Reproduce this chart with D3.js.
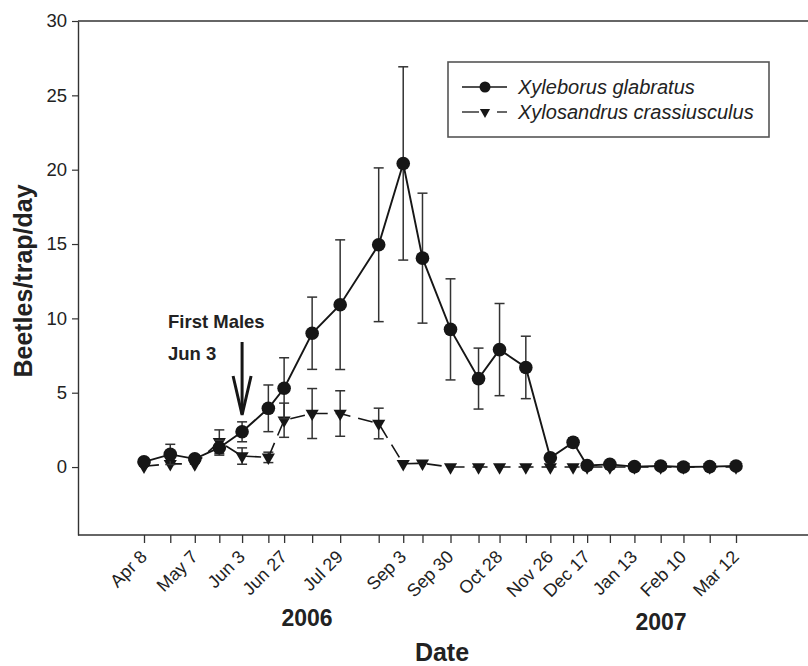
<!DOCTYPE html>
<html>
<head>
<meta charset="utf-8">
<script src="https://cdn.jsdelivr.net/npm/d3@7/dist/d3.min.js"></script>
<style>
  html, body { margin: 0; padding: 0; background: #fff; }
  svg { display: block; font-family: "Liberation Sans", Arial, Helvetica, sans-serif; }
</style>
</head>
<body>
<svg id="chart" width="808" height="666"></svg>
<script>
// Trap collection dates (2006–2007)
const sampleDates = [
  "2006-04-08","2006-04-23","2006-05-07","2006-05-21","2006-06-03","2006-06-18",
  "2006-06-27","2006-07-13","2006-07-29","2006-08-20","2006-09-03","2006-09-14",
  "2006-09-30","2006-10-16","2006-10-28","2006-11-12","2006-11-26","2006-12-09",
  "2006-12-17","2006-12-30","2007-01-13","2007-01-28","2007-02-10","2007-02-25",
  "2007-03-12"
];

// Mean beetles/trap/day and standard errors
const glabratusMean = [0.35, 0.85, 0.55, 1.3, 2.37, 3.95, 5.3, 9.0, 10.92, 14.95, 20.42, 14.05,
  9.26, 5.95, 7.9, 6.7, 0.63, 1.66, 0.1, 0.18, 0.03, 0.07, 0.0, 0.03, 0.07];
const glabratusSE = [0.15, 0.68, 0.2, 0.5, 0.67, 1.57, 2.05, 2.43, 4.36, 5.17, 6.5, 4.37,
  3.4, 2.05, 3.1, 2.1, 0.15, 0.3, 0.1, 0.08, 0.05, 0.06, 0.05, 0.05, 0.05];

const crassMean = [0.05, 0.22, 0.2, 1.7, 0.74, 0.65, 3.15, 3.6, 3.6, 2.93, 0.22, 0.25,
  0.0, 0.0, 0.0, 0.0, 0.0, 0.0, 0.0, 0.0, 0.0, 0.0, 0.0, 0.0, 0.0];
const crassSE = [0.05, 0.1, 0.1, 0.8, 0.55, 0.35, 1.15, 1.68, 1.53, 1.03, 0.05, 0.05,
  0.0, 0.0, 0.0, 0.0, 0.0, 0.0, 0.0, 0.0, 0.0, 0.0, 0.0, 0.0, 0.0];

// Labelled x ticks
const labelDates = ["2006-04-08","2006-05-07","2006-06-03","2006-06-27","2006-07-29","2006-09-03",
  "2006-09-30","2006-10-28","2006-11-26","2006-12-17","2007-01-13","2007-02-10","2007-03-12"];
const labelTexts = ["Apr 8","May 7","Jun 3","Jun 27","Jul 29","Sep 3",
  "Sep 30","Oct 28","Nov 26","Dec 17","Jan 13","Feb 10","Mar 12"];

const yTicks = [0, 5, 10, 15, 20, 25, 30];
const seriesNames = ["Xyleborus glabratus", "Xylosandrus crassiusculus"];

const parse = d3.utcParse("%Y-%m-%d");
const dates = sampleDates.map(parse);

const svg = d3.select("#chart");
const ink = "#161616";

const x = d3.scaleUtc()
  .domain([parse("2006-04-08"), parse("2007-03-12")])
  .range([144, 736]);
const y = d3.scaleLinear().domain([-4.57, 30]).range([535, 21]);

const plotLeft = 78, plotRight = 810;

// Frame lines (top and bottom run to the edge)
svg.append("line").attr("x1", plotLeft).attr("x2", plotRight)
  .attr("y1", y(30)).attr("y2", y(30)).attr("stroke", "#333").attr("stroke-width", 1.4);

// Y axis
const yAxis = d3.axisLeft(y).tickValues(yTicks).tickSize(6).tickPadding(5).tickSizeOuter(0);
const gy = svg.append("g").attr("transform", `translate(${plotLeft},0)`).call(yAxis);
gy.select(".domain").attr("stroke", "#333").attr("stroke-width", 1.4);
gy.selectAll(".tick line").attr("stroke", "#333").attr("stroke-width", 1.2);
gy.selectAll(".tick text").attr("font-size", 18.5).attr("fill", "#222")
  .attr("font-family", "Liberation Sans, Arial, sans-serif");

// X axis: a tick at every collection date, labels on every other one
const xAxis = d3.axisBottom(x).tickValues(dates).tickSize(8).tickFormat("").tickSizeOuter(0);
const gx = svg.append("g").attr("transform", `translate(0,${y.range()[0]})`).call(xAxis);
gx.select(".domain").remove();
gx.selectAll(".tick line").attr("stroke", "#333").attr("stroke-width", 1.3);
svg.append("line").attr("x1", plotLeft).attr("x2", plotRight)
  .attr("y1", y.range()[0]).attr("y2", y.range()[0]).attr("stroke", "#333").attr("stroke-width", 1.4);

svg.append("g").selectAll("text")
  .data(labelDates.map((d, i) => ({ date: parse(d), text: labelTexts[i] })))
  .join("text")
  .attr("transform", d => `translate(${x(d.date) + 4},558) rotate(-45)`)
  .attr("text-anchor", "end")
  .attr("font-size", 18)
  .attr("fill", "#222")
  .text(d => d.text);

// Year labels and axis titles
svg.append("text").attr("x", 307).attr("y", 626).attr("text-anchor", "middle")
  .attr("font-size", 23).attr("font-weight", "bold").attr("fill", "#222").text("2006");
svg.append("text").attr("x", 661).attr("y", 630).attr("text-anchor", "middle")
  .attr("font-size", 23).attr("font-weight", "bold").attr("fill", "#222").text("2007");
svg.append("text").attr("x", 442).attr("y", 661).attr("text-anchor", "middle")
  .attr("font-size", 25).attr("font-weight", "bold").attr("fill", "#222").text("Date");
svg.append("text").attr("transform", "translate(32,281) rotate(-90)").attr("text-anchor", "middle")
  .attr("font-size", 25).attr("font-weight", "bold").attr("fill", "#222").text("Beetles/trap/day");

// Series data
const glab = dates.map((d, i) => ({ date: d, v: glabratusMean[i], se: glabratusSE[i] }));
const crass = dates.map((d, i) => ({ date: d, v: crassMean[i], se: crassSE[i] }));

function errorBars(data) {
  const g = svg.append("g").attr("stroke", "#333").attr("stroke-width", 1.5).attr("fill", "none");
  data.filter(d => d.se > 0.12).forEach(d => {
    const cx = x(d.date), top = y(d.v + d.se), bot = y(d.v - d.se);
    g.append("line").attr("x1", cx).attr("x2", cx).attr("y1", top).attr("y2", bot);
    g.append("line").attr("x1", cx - 5).attr("x2", cx + 5).attr("y1", top).attr("y2", top);
    g.append("line").attr("x1", cx - 5).attr("x2", cx + 5).attr("y1", bot).attr("y2", bot);
  });
}

const line = d3.line().x(d => x(d.date)).y(d => y(d.v));
const triangle = d3.symbol().type(d3.symbolTriangle).size(75);

// Xylosandrus crassiusculus (dashed, triangles)
errorBars(crass);
svg.append("path").datum(crass).attr("d", line)
  .attr("fill", "none").attr("stroke", ink).attr("stroke-width", 1.6)
  .attr("stroke-dasharray", "15,8");
svg.append("g").selectAll("path").data(crass).join("path")
  .attr("d", triangle)
  .attr("transform", d => `translate(${x(d.date)},${y(d.v)}) rotate(180)`)
  .attr("fill", ink);

// Xyleborus glabratus (solid, circles)
errorBars(glab);
svg.append("path").datum(glab).attr("d", line)
  .attr("fill", "none").attr("stroke", ink).attr("stroke-width", 1.9);
svg.append("g").selectAll("circle").data(glab).join("circle")
  .attr("cx", d => x(d.date)).attr("cy", d => y(d.v)).attr("r", 6.8)
  .attr("fill", ink);

// "First Males" annotation with arrow at Jun 3
svg.append("text").attr("x", 168).attr("y", 328).attr("font-size", 18.5)
  .attr("font-weight", "bold").attr("fill", "#222").text("First Males");
svg.append("text").attr("x", 168).attr("y", 360).attr("font-size", 18.5)
  .attr("font-weight", "bold").attr("fill", "#222").text("Jun 3");
const ax = x(parse("2006-06-03"));
svg.append("line").attr("x1", ax).attr("x2", ax).attr("y1", 342).attr("y2", 414)
  .attr("stroke", ink).attr("stroke-width", 3);
svg.append("path").attr("d", `M${ax - 9},376 L${ax},415 L${ax + 9},376`)
  .attr("fill", "none").attr("stroke", ink).attr("stroke-width", 3);

// Legend
const lg = svg.append("g");
lg.append("rect").attr("x", 448).attr("y", 62).attr("width", 321).attr("height", 75)
  .attr("fill", "#fff").attr("stroke", "#555").attr("stroke-width", 1.6);
lg.append("line").attr("x1", 462).attr("x2", 507).attr("y1", 87).attr("y2", 87)
  .attr("stroke", ink).attr("stroke-width", 1.6);
lg.append("circle").attr("cx", 485).attr("cy", 87).attr("r", 5.5).attr("fill", ink);
lg.append("line").attr("x1", 462).attr("x2", 479).attr("y1", 112).attr("y2", 112)
  .attr("stroke", ink).attr("stroke-width", 1.3);
lg.append("line").attr("x1", 497).attr("x2", 507).attr("y1", 112).attr("y2", 112)
  .attr("stroke", ink).attr("stroke-width", 1.3);
lg.append("path").attr("d", d3.symbol().type(d3.symbolTriangle).size(45)())
  .attr("transform", "translate(485,112) rotate(180)").attr("fill", ink);
lg.selectAll("text.legend").data(seriesNames).join("text")
  .attr("class", "legend")
  .attr("x", 518).attr("y", (d, i) => 94 + i * 25)
  .attr("font-size", 20).attr("font-style", "italic").attr("fill", "#222")
  .text(d => d);
</script>
</body>
</html>
